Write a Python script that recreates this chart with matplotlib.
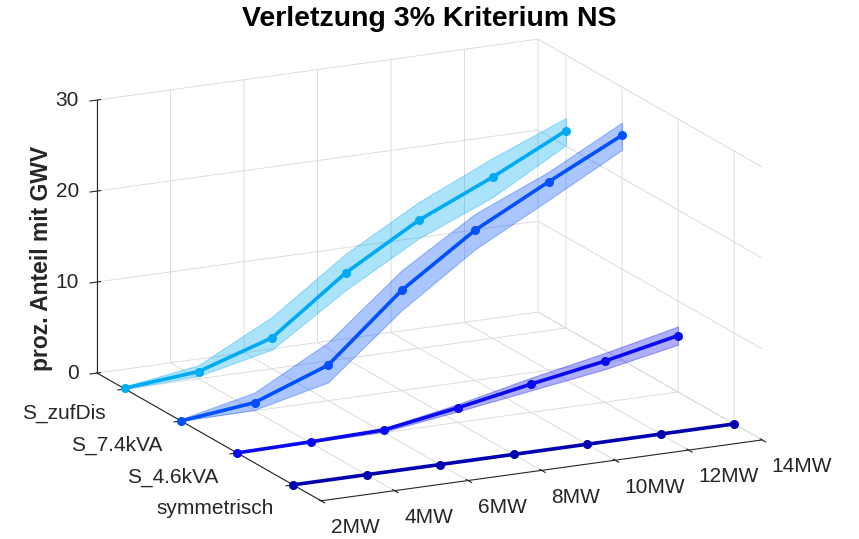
import matplotlib
matplotlib.use('Agg')
import matplotlib.pyplot as plt
import numpy as np
from mpl_toolkits.mplot3d.art3d import Poly3DCollection

plt.rcParams['font.family'] = ['Liberation Sans', 'DejaVu Sans']
plt.rcParams['grid.color'] = '#dcdcdc'
plt.rcParams['grid.linewidth'] = 0.7

# installed power (x axis)
leistung = [2, 4, 6, 8, 10, 12, 14]
leistung_labels = ['2MW', '4MW', '6MW', '8MW', '10MW', '12MW', '14MW']

# scenarios, front to back
szenarien = ['symmetrisch', 'S_4.6kVA', 'S_7.4kVA', 'S_zufDis']

# mean share with GWV [%]
gwv_sym = [0, 0, 0, 0, 0, 0, 0]
gwv_46 = [0, 0.1, 0.3, 1.6, 3.1, 4.5, 6.2]
gwv_74 = [0, 0.9, 3.9, 11.0, 16.5, 20.7, 24.7]
gwv_zuf = [0.1, 0.8, 3.4, 9.4, 14.1, 17.7, 21.7]

# band lower / upper
lo_sym = [0, 0, 0, 0, 0, 0, 0]
hi_sym = [0, 0, 0, 0, 0, 0, 0]
lo_46 = [0, 0.05, 0.1, 1.2, 2.4, 3.6, 5.2]
hi_46 = [0, 0.15, 0.5, 2.0, 3.8, 5.4, 7.2]
lo_74 = [0, 0.1, 2.0, 8.8, 14.4, 18.7, 23.1]
hi_74 = [0.2, 2.0, 6.4, 13.2, 18.3, 21.8, 26.1]
lo_zuf = [0, 0.3, 2.1, 7.5, 12.1, 15.5, 20.1]
hi_zuf = [0.3, 1.5, 5.7, 11.5, 16.1, 19.8, 23.1]

farben = ['#0000b0', '#0a0af0', '#0050ff', '#00aaf5']

werte = [gwv_sym, gwv_46, gwv_74, gwv_zuf]
unten = [lo_sym, lo_46, lo_74, lo_zuf]
oben = [hi_sym, hi_46, hi_74, hi_zuf]

fig = plt.figure(figsize=(8.59, 5.39), dpi=100)
ax = fig.add_subplot(111, projection='3d', proj_type='ortho')
ax.set_position([0.2054, 0.0295, 0.5738, 0.9145])
ax.view_init(elev=16.3, azim=-116.2)
ax.set_box_aspect((491.5, 507.5, 284.4), zoom=1.5)
ax.computed_zorder = False

# draw back to front
z = 10
for i in range(len(szenarien) - 1, -1, -1):
    ypos = i + 1
    xs = leistung
    verts = [(x, ypos, h) for x, h in zip(xs, oben[i])] + \
            [(x, ypos, l) for x, l in zip(xs[::-1], unten[i][::-1])]
    band = Poly3DCollection([verts], facecolor=farben[i], alpha=0.33,
                            edgecolor=farben[i], linewidth=0.8)
    band.set_zorder(z)
    band.set_clip_on(False)
    ax.add_collection3d(band)
    ln, = ax.plot(xs, [ypos] * len(xs), werte[i], color=farben[i], lw=2.6,
                  marker='o', ms=5.5, zorder=z + 1)
    ln.set_clip_on(False)
    z += 2

ax.set_xlim(2, 14)
ax.set_ylim(0.5, 4.5)
ax.set_zlim(0, 30)
ax.set_xticks(leistung)
ax.set_xticklabels(leistung_labels, fontsize=15, color='#262626', ha='left')
ax.set_yticks([1, 2, 3, 4])
ax.set_yticklabels(szenarien, fontsize=15, color='#262626', ha='right')
ax.set_zticks([0, 10, 20, 30])
ax.set_zticklabels(['0', '10', '20', '30'], fontsize=15, color='#262626',
                   ha='right', va='center_baseline')
ax.tick_params(axis='x', pad=0)
ax.tick_params(axis='y', pad=0)
ax.tick_params(axis='z', pad=-3)

for axis in (ax.xaxis, ax.yaxis, ax.zaxis):
    axis.set_pane_color((1, 1, 1, 1))
    axis.line.set_color('#262626')
    axis.line.set_linewidth(0.8)
ax.tick_params(colors='#262626')

fig.text(0.5, 1 - 19 / 539, 'Verletzung 3% Kriterium NS', ha='center',
         va='center', fontsize=20.5, fontweight='bold')
fig.text(42 / 859, 1 - 258 / 539, 'proz. Anteil mit GWV', ha='center',
         va='center', rotation=90, fontsize=16.5, fontweight='bold',
         color='#262626')

fig.savefig('out.png', dpi=100, facecolor='white')
